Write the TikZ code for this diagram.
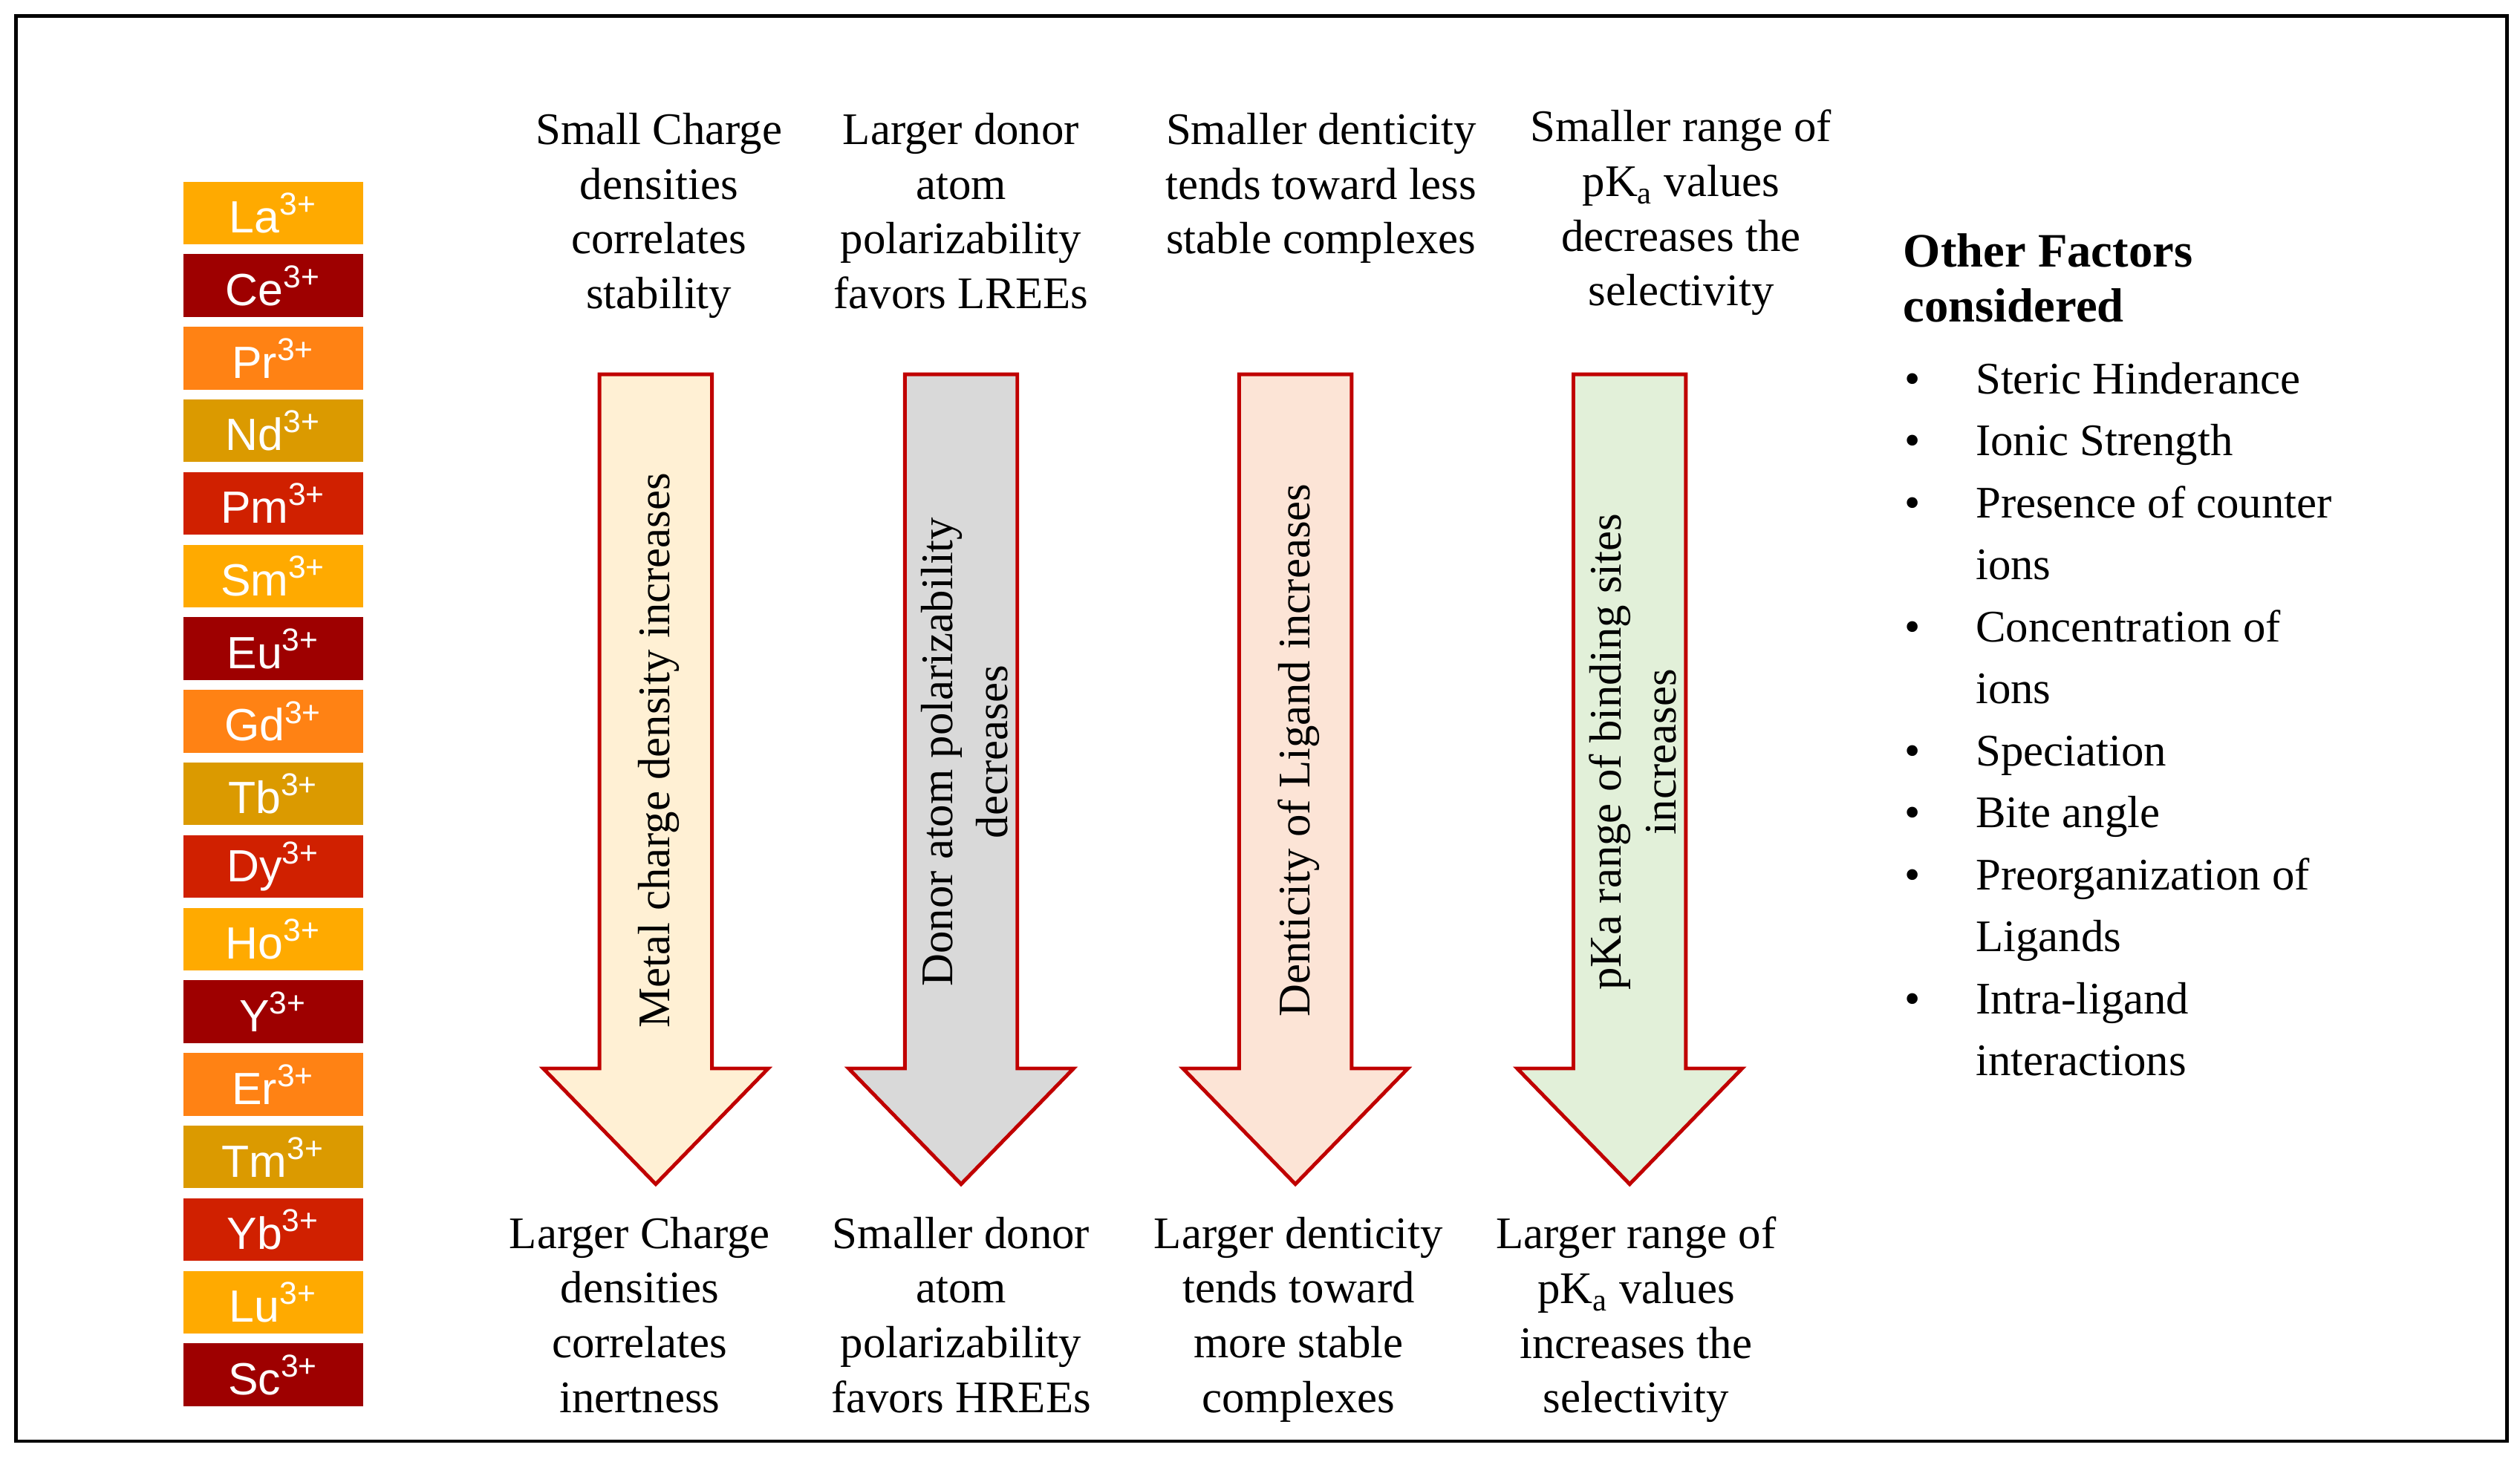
\documentclass[tikz,border=0pt]{standalone}
\usepackage{fontspec}
\setmainfont{Liberation Serif}
\newfontfamily\ionfont{Liberation Sans}
\definecolor{laC}{HTML}{FFAA00}
\definecolor{ceC}{HTML}{9E0000}
\definecolor{prC}{HTML}{FF8214}
\definecolor{ndC}{HTML}{DB9A00}
\definecolor{pmC}{HTML}{D02000}
\definecolor{edgeC}{HTML}{C00000}
\tikzset{
  ion/.style={draw=none, minimum width=2.24cm, minimum height=0.78cm, inner sep=0pt,
    text=white, font=\ionfont\fontsize{16}{18}\selectfont},
  txt/.style={align=center, font=\fontsize{16}{19.4}\selectfont, inner sep=0pt},
  bigarrow/.style={draw=edgeC, line width=1.3pt, line join=miter},
}
\begin{document}
\begin{tikzpicture}[x=0.02cm, y=-0.02cm]
		\useasboundingbox (0,0) rectangle (1568,908);
		% Frame
		\draw[line width=1.2pt] (10,10) rectangle (1560,897);
		
		% Ion column
		\foreach \el [count=\i from 0] in {La,Ce,Pr,Nd,Pm,Sm,Eu,Gd,Tb,Dy,Ho,Y,Er,Tm,Yb,Lu,Sc} {
			\pgfmathtruncatemacro{\k}{mod(\i,5)}
			\ifcase\k \def\fillC{laC}\or \def\fillC{ceC}\or \def\fillC{prC}\or \def\fillC{ndC}\or \def\fillC{pmC}\fi
			\node[ion, fill=\fillC] (ion\el) at (170, 132.5 + \i * 45.2) {\el\textsuperscript{3+}};
		}
		
		% Arrows: shaft left x, fill colour
		\foreach \sx/\col in {373/FFF0D4, 563/D9D9D9, 771/FCE4D6, 979/E2F0D9} {
			\definecolor{arrC}{HTML}{\col}
			\draw[bigarrow, fill=arrC] (\sx,233) -- (\sx+70,233) -- (\sx+70,665) -- (\sx+105,665)
				-- (\sx+35,737) -- (\sx-35,665) -- (\sx,665) -- cycle;
		}
		
		% Texts inside the arrows
		\node[txt, rotate=90] (mid1) at (410,467) {Metal charge density increases};
		\node[txt, rotate=90] (mid2) at (600,468) {Donor atom polarizability\\decreases};
		\node[txt, rotate=90] (mid3) at (808,467) {Denticity of Ligand increases};
		\node[txt, rotate=90] (mid4) at (1016,468) {pKa range of binding sites\\increases};
		
		% Texts above
		\node[txt, anchor=north] (top1) at (410,70) {Small Charge\\densities\\correlates\\stability};
		\node[txt, anchor=north] (top2) at (598,70) {Larger donor\\atom\\polarizability\\favors LREEs};
		\node[txt, anchor=north] (top3) at (822,70) {Smaller denticity\\tends toward less\\stable complexes};
		\node[txt, anchor=north] (top4) at (1046,68) {Smaller range of\\pK\textsubscript{a} values\\decreases the\\selectivity};
		
		% Texts below
		\node[txt, anchor=north] (bot1) at (398,757) {Larger Charge\\densities\\correlates\\inertness};
		\node[txt, anchor=north] (bot2) at (598,757) {Smaller donor\\atom\\polarizability\\favors HREEs};
		\node[txt, anchor=north] (bot3) at (808,757) {Larger denticity\\tends toward\\more stable\\complexes};
		\node[txt, anchor=north] (bot4) at (1018,757) {Larger range of\\pK\textsubscript{a} values\\increases the\\selectivity};
		
		% Other factors
		\node[txt, anchor=north west, align=left, font=\bfseries\fontsize{17}{19.4}\selectfont] (other) at (1184,145)
			{Other Factors\\considered};
		\foreach \t [count=\j from 0] in {Steric Hinderance, Ionic Strength, Presence of counter, ions,
			Concentration of, ions, Speciation, Bite angle, Preorganization of, Ligands, Intra-ligand, interactions} {
			\node[txt, anchor=base west] (fac\j) at (1229, 245 + \j * 38.6) {\t};
		}
		\foreach \j in {0,1,2,4,6,7,8,10} {
			\node[txt, anchor=base] (dot\j) at (1190, 245 + \j * 38.6) {\textbullet};
		}
	\end{tikzpicture}
\end{document}
